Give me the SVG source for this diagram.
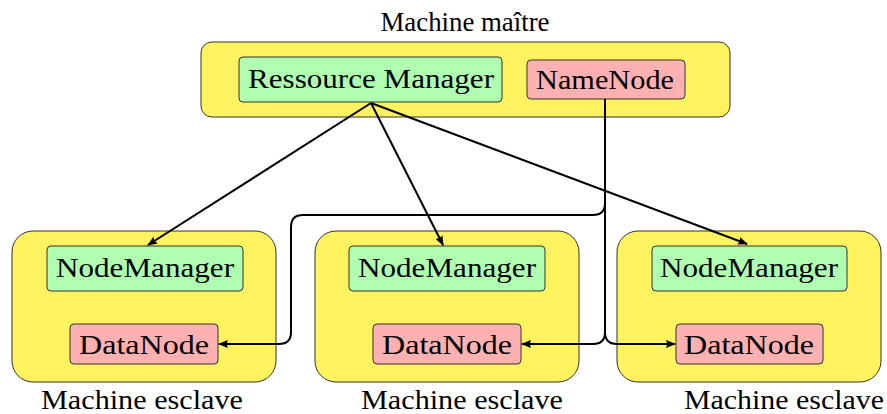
<svg xmlns="http://www.w3.org/2000/svg" width="887" height="414" viewBox="0 0 887 414">
  <style>
    .machine { fill: #fff35f; stroke: #333; stroke-width: 1; }
    .green { fill: #b0ffb0; stroke: #333; stroke-width: 1; }
    .red { fill: #ffb0b0; stroke: #333; stroke-width: 1; }
    text { font-family: "Liberation Serif", "DejaVu Serif", serif; font-size: 28px; fill: #000; text-anchor: middle; }
    .link { fill: none; stroke: #000; stroke-width: 2; }
  </style>
  <defs>
    <marker id="arrow" viewBox="0 0 10 8" refX="9" refY="4" markerWidth="10" markerHeight="8" markerUnits="userSpaceOnUse" orient="auto">
      <path d="M0,0 L10,4 L0,8 Q2,4 0,0 Z" fill="#000"/>
    </marker>
  </defs>

  <!-- master machine -->
  <g id="master">
    <rect class="machine" x="201" y="42" width="529" height="75" rx="11"/>
    <text x="465" y="31" textLength="169" lengthAdjust="spacingAndGlyphs">Machine maître</text>
  </g>
  <g id="resource-manager">
    <rect class="green" x="239" y="57" width="263" height="45" rx="4"/>
    <text x="371" y="88" textLength="246" lengthAdjust="spacingAndGlyphs">Ressource Manager</text>
  </g>
  <g id="namenode">
    <rect class="red" x="527" y="60" width="158" height="39" rx="4"/>
    <text x="605" y="89" textLength="138" lengthAdjust="spacingAndGlyphs">NameNode</text>
  </g>

  <!-- slave machines -->
  <g id="slave1">
    <rect class="machine" x="12" y="231" width="264" height="151" rx="21"/>
    <text x="142" y="409" textLength="202" lengthAdjust="spacingAndGlyphs">Machine esclave</text>
  </g>
  <g id="nodemanager1">
    <rect class="green" x="47" y="246" width="196" height="45" rx="4"/>
    <text x="145" y="277" textLength="178" lengthAdjust="spacingAndGlyphs">NodeManager</text>
  </g>
  <g id="datanode1">
    <rect class="red" x="70" y="324" width="148" height="40" rx="4"/>
    <text x="144" y="354" textLength="130" lengthAdjust="spacingAndGlyphs">DataNode</text>
  </g>

  <g id="slave2">
    <rect class="machine" x="315" y="231" width="264" height="151" rx="21"/>
    <text x="462" y="409" textLength="202" lengthAdjust="spacingAndGlyphs">Machine esclave</text>
  </g>
  <g id="nodemanager2">
    <rect class="green" x="349" y="246" width="196" height="45" rx="4"/>
    <text x="447" y="277" textLength="178" lengthAdjust="spacingAndGlyphs">NodeManager</text>
  </g>
  <g id="datanode2">
    <rect class="red" x="373" y="324" width="148" height="40" rx="4"/>
    <text x="447" y="354" textLength="130" lengthAdjust="spacingAndGlyphs">DataNode</text>
  </g>

  <g id="slave3">
    <rect class="machine" x="617" y="231" width="264" height="151" rx="21"/>
    <text x="784" y="409" textLength="200" lengthAdjust="spacingAndGlyphs">Machine esclave</text>
  </g>
  <g id="nodemanager3">
    <rect class="green" x="652" y="246" width="195" height="45" rx="4"/>
    <text x="749" y="277" textLength="178" lengthAdjust="spacingAndGlyphs">NodeManager</text>
  </g>
  <g id="datanode3">
    <rect class="red" x="676" y="324" width="147" height="40" rx="4"/>
    <text x="749" y="354" textLength="130" lengthAdjust="spacingAndGlyphs">DataNode</text>
  </g>

  <!-- connectors -->
  <g id="connectors">
    <path class="link" d="M371,103 L148,245" marker-end="url(#arrow)"/>
    <path class="link" d="M371,103 L443,245" marker-end="url(#arrow)"/>
    <path class="link" d="M371,103 L747,244" marker-end="url(#arrow)"/>
    <path class="link" d="M605,99 V203 Q605,215 593,215 H303 Q291,215 291,227 V332 Q291,344 279,344 H219" marker-end="url(#arrow)"/>
    <path class="link" d="M605,203 V332 Q605,344 593,344 H522" marker-end="url(#arrow)"/>
    <path class="link" d="M605,332 Q605,344 617,344 H675" marker-end="url(#arrow)"/>
  </g>
</svg>
